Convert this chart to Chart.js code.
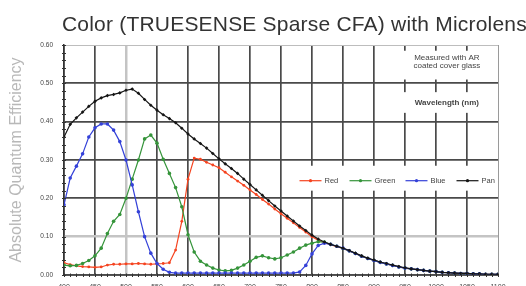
<!DOCTYPE html>
<html>
<head>
<meta charset="utf-8">
<script src="https://cdn.jsdelivr.net/npm/chart.js@4"></script>
<style>
html, body { margin: 0; padding: 0; background: #fff; overflow: hidden; }
#wrap { position: relative; width: 526px; height: 296px; }
#title {
    position: absolute; left: 62px; top: 13px;
    font: 21px "Liberation Sans", Arial, sans-serif; line-height: 21px;
    letter-spacing: 0.2px;
    color: #333; white-space: nowrap;
}
</style>
</head>
<body>
<div id="wrap">
<canvas id="chart" width="526" height="296"></canvas>
<div id="title">Color (TRUESENSE Sparse CFA) with Microlens</div>
</div>
<script>
// wavelength in nm
var wavelengths = [400, 410, 420, 430, 440, 450, 460, 470, 480, 490,
    500, 510, 520, 530, 540, 550, 560, 570, 580, 590,
    600, 610, 620, 630, 640, 650, 660, 670, 680, 690,
    700, 710, 720, 730, 740, 750, 760, 770, 780, 790,
    800, 810, 820, 830, 840, 850, 860, 870, 880, 890,
    900, 910, 920, 930, 940, 950, 960, 970, 980, 990,
    1000, 1010, 1020, 1030, 1040, 1050, 1060, 1070, 1080, 1090, 1100];

var redQE = [0.032, 0.027, 0.024, 0.022, 0.021, 0.020, 0.021, 0.026, 0.028, 0.028,
    0.029, 0.029, 0.030, 0.029, 0.028, 0.029, 0.030, 0.032, 0.065, 0.140,
    0.250, 0.305, 0.302, 0.294, 0.287, 0.280, 0.268, 0.256, 0.245, 0.234,
    0.222, 0.210, 0.197, 0.185, 0.172, 0.160, 0.148, 0.136, 0.124, 0.112,
    0.100, 0.091, 0.084, 0.079, 0.074, 0.069, 0.063, 0.056, 0.049, 0.043,
    0.038, 0.033, 0.029, 0.025, 0.021, 0.018, 0.016, 0.014, 0.012, 0.010,
    0.009, 0.007, 0.006, 0.005, 0.004, 0.004, 0.003, 0.003, 0.002, 0.002, 0.002];

var greenQE = [0.026, 0.024, 0.025, 0.030, 0.038, 0.050, 0.070, 0.108, 0.140, 0.158,
    0.200, 0.250, 0.300, 0.355, 0.365, 0.344, 0.302, 0.265, 0.228, 0.178,
    0.105, 0.060, 0.036, 0.026, 0.018, 0.013, 0.011, 0.012, 0.018, 0.026,
    0.036, 0.046, 0.050, 0.045, 0.042, 0.045, 0.052, 0.060, 0.070, 0.078,
    0.083, 0.087, 0.086, 0.080, 0.075, 0.069, 0.063, 0.056, 0.049, 0.043,
    0.038, 0.033, 0.029, 0.025, 0.021, 0.018, 0.016, 0.014, 0.012, 0.010,
    0.009, 0.007, 0.006, 0.005, 0.004, 0.004, 0.003, 0.003, 0.002, 0.002, 0.002];

var blueQE = [0.183, 0.253, 0.284, 0.316, 0.360, 0.384, 0.394, 0.394, 0.378, 0.348,
    0.300, 0.235, 0.165, 0.100, 0.057, 0.030, 0.015, 0.007, 0.005, 0.005,
    0.005, 0.005, 0.005, 0.005, 0.005, 0.005, 0.005, 0.005, 0.005, 0.005,
    0.005, 0.005, 0.005, 0.005, 0.005, 0.005, 0.005, 0.005, 0.008, 0.025,
    0.055, 0.077, 0.083, 0.080, 0.075, 0.070, 0.063, 0.056, 0.049, 0.043,
    0.038, 0.033, 0.029, 0.025, 0.021, 0.018, 0.016, 0.014, 0.012, 0.010,
    0.009, 0.007, 0.006, 0.005, 0.004, 0.004, 0.003, 0.003, 0.002, 0.002, 0.002];

var panQE = [0.360, 0.393, 0.410, 0.425, 0.440, 0.453, 0.462, 0.468, 0.471, 0.475,
    0.482, 0.485, 0.474, 0.458, 0.443, 0.430, 0.418, 0.408, 0.397, 0.383,
    0.368, 0.355, 0.343, 0.331, 0.317, 0.303, 0.290, 0.278, 0.265, 0.250,
    0.236, 0.222, 0.208, 0.194, 0.180, 0.167, 0.154, 0.141, 0.128, 0.116,
    0.104, 0.094, 0.086, 0.080, 0.075, 0.070, 0.064, 0.057, 0.050, 0.044,
    0.039, 0.034, 0.030, 0.026, 0.022, 0.019, 0.016, 0.014, 0.012, 0.010,
    0.009, 0.007, 0.006, 0.005, 0.004, 0.004, 0.003, 0.003, 0.002, 0.002, 0.002];

var seriesNames = ['Red', 'Green', 'Blue', 'Pan'];
var seriesColors = ['#f5431f', '#35943a', '#3441d8', '#151515'];
var yTicks = [0, 0.1, 0.2, 0.3, 0.4, 0.5, 0.6];

var FONT = '"Liberation Sans", Arial, sans-serif';

function points(values)
{
    return wavelengths.map(function(w, i) { return {x: w, y: values[i]}; });
}

function makeSet(i, values)
{
    return {
        label: seriesNames[i],
        data: points(values),
        borderColor: seriesColors[i],
        backgroundColor: seriesColors[i],
        borderWidth: 1.2,
        pointRadius: i == 0 ? 1.4 : 1.8,
        pointBorderWidth: 0,
        pointStyle: i == 3 ? 'rectRot' : 'circle',
        tension: 0,
        order: 3 - i
    };
}

// white label boxes, notes and the legend inside the plot
var notesPlugin = {
    id: 'notes',
    beforeDatasetsDraw: function(chart) {
        var ctx = chart.ctx, a = chart.chartArea;
        var x = chart.scales.x, y = chart.scales.y;
        ctx.save();
        ctx.fillStyle = '#fff';
        var bx = x.getPixelForValue(935);
        var cx = (bx + a.right) / 2;
        var t1 = y.getPixelForValue(0.585), b1 = y.getPixelForValue(0.51);
        var t2 = y.getPixelForValue(0.477), b2 = y.getPixelForValue(0.423);
        ctx.fillRect(bx, t1, a.right - bx - 1, b1 - t1);
        ctx.fillRect(bx, t2, a.right - bx - 1, b2 - t2);

        ctx.fillStyle = '#444';
        ctx.textAlign = 'center';
        ctx.textBaseline = 'middle';
        ctx.font = '8px ' + FONT;
        ctx.fillText('Measured with AR', cx, t1 + 7);
        ctx.fillText('coated cover glass', cx, t1 + 15);
        ctx.font = 'bold 8px ' + FONT;
        ctx.fillText('Wavelength (nm)', cx, (t2 + b2) / 2);

        // legend
        var lx = x.getPixelForValue(775);
        var lt = y.getPixelForValue(0.285), lb = y.getPixelForValue(0.22);
        ctx.fillStyle = '#fff';
        ctx.fillRect(lx, lt, a.right - lx - 1, lb - lt);
        var ly = (lt + lb) / 2 + 2.5;
        var offs = [3, 53, 109, 160];
        ctx.font = '7.5px ' + FONT;
        ctx.textAlign = 'left';
        for (var i = 0; i < 4; i++)
        {
            var sx = lx + offs[i];
            ctx.strokeStyle = seriesColors[i];
            ctx.fillStyle = seriesColors[i];
            ctx.lineWidth = 1.2;
            ctx.beginPath();
            ctx.moveTo(sx, ly);
            ctx.lineTo(sx + 22, ly);
            ctx.stroke();
            ctx.beginPath();
            ctx.arc(sx + 11, ly, 1.6, 0, Math.PI * 2);
            ctx.fill();
            ctx.fillStyle = '#444';
            ctx.fillText(seriesNames[i], sx + 25, ly + 0.5);
        }
        ctx.restore();
    },
    afterDraw: function(chart) {
        // minor ticks on both axes
        var ctx = chart.ctx, a = chart.chartArea;
        var x = chart.scales.x, y = chart.scales.y;
        ctx.save();
        ctx.strokeStyle = '#333';
        ctx.lineWidth = 1;
        ctx.beginPath();
        for (var v = 0; v <= 60; v += 2)
        {
            var py = Math.round(y.getPixelForValue(v / 100)) + 0.5;
            ctx.moveTo(a.left - 2, py);
            ctx.lineTo(a.left + 2, py);
        }
        for (var w = 400; w <= 1100; w += 10)
        {
            var px = Math.round(x.getPixelForValue(w)) + 0.5;
            ctx.moveTo(px, a.bottom - 1.5);
            ctx.lineTo(px, a.bottom + 2);
        }
        ctx.stroke();
        ctx.restore();
    }
};

var chart = new Chart(document.getElementById('chart'), {
    type: 'line',
    data: {
        datasets: [
            makeSet(0, redQE),
            makeSet(1, greenQE),
            makeSet(2, blueQE),
            makeSet(3, panQE)
        ]
    },
    options: {
        responsive: false,
        animation: false,
        layout: { padding: { top: 45, right: 28, left: 0, bottom: 0 } },
        plugins: {
            legend: { display: false },
            tooltip: { enabled: false }
        },
        scales: {
            x: {
                type: 'linear',
                min: 400,
                max: 1100,
                afterFit: function(s) { s.height = 21; },
                ticks: {
                    stepSize: 50,
                    padding: 8,
                    color: '#444',
                    font: { family: FONT, size: 7 },
                    callback: function(v) { return String(v); }
                },
                grid: {
                    drawTicks: false,
                    color: function(c) {
                        var v = c.tick.value;
                        if (v == 500) return '#c4c4c4';
                        if (v == 1100) return '#9a9a9a';
                        return '#4a4a4a';
                    },
                    lineWidth: function(c) {
                        var v = c.tick.value;
                        if (v == 500) return 2.5;
                        if (v == 1100) return 1;
                        return 1.7;
                    }
                },
                border: { color: '#555', width: 1 }
            },
            y: {
                min: 0,
                max: 0.6,
                afterFit: function(s) { s.width = 64; },
                afterBuildTicks: function(s) {
                    s.ticks = yTicks.map(function(v) { return {value: v}; });
                },
                ticks: {
                    padding: 11,
                    color: '#444',
                    font: { family: FONT, size: 6.5 },
                    callback: function(v) { return Number(v).toFixed(2); }
                },
                grid: {
                    drawTicks: false,
                    color: function(c) {
                        var v = Math.round(c.tick.value * 100);
                        if (v == 10) return '#c4c4c4';
                        if (v == 60) return '#bdbdbd';
                        return '#4a4a4a';
                    },
                    lineWidth: function(c) {
                        var v = Math.round(c.tick.value * 100);
                        if (v == 10) return 2.5;
                        if (v == 60) return 1;
                        return 1.7;
                    }
                },
                border: { color: '#333', width: 1.5 },
                title: {
                    display: true,
                    text: 'Absolute Quantum Efficiency',
                    color: '#b8b8b8',
                    font: { family: FONT, size: 16 },
                    padding: { top: 7, bottom: 0 }
                }
            }
        }
    },
    plugins: [notesPlugin]
});
</script>
</body>
</html>
